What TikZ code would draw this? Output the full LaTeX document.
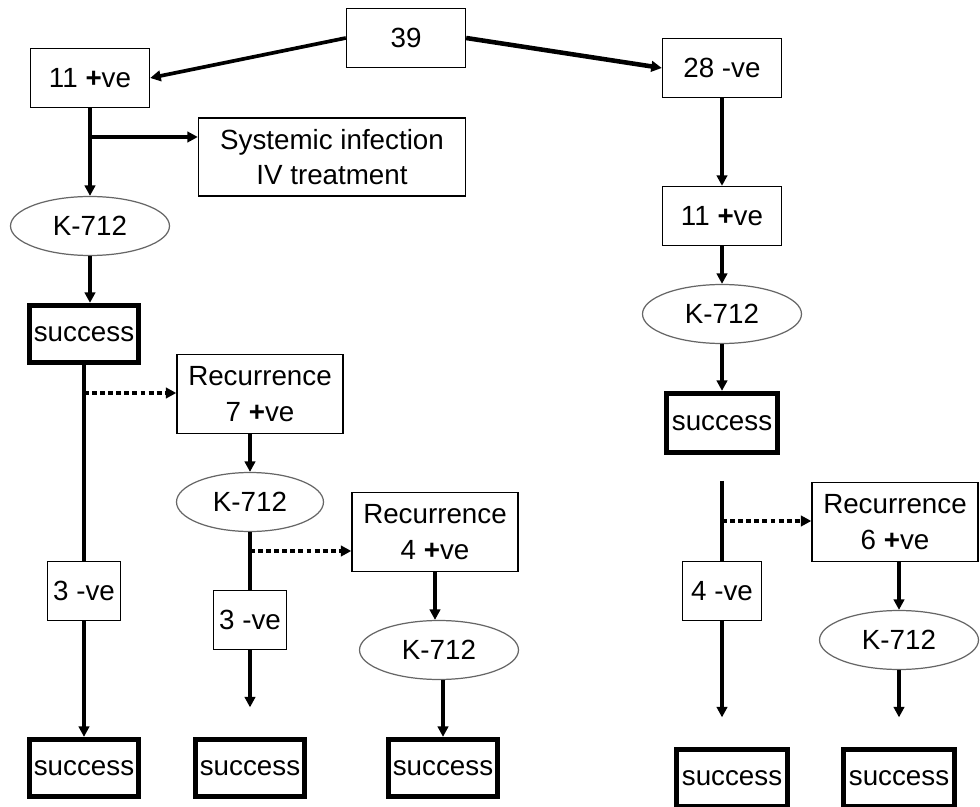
\documentclass[tikz,border=0pt]{standalone}
\usepackage{fontspec}
\setmainfont{Liberation Sans}
\usetikzlibrary{arrows.meta,shapes.geometric}

\begin{document}
\begin{tikzpicture}[
      x=0.02cm, y=-0.02cm,
      box/.style={draw, line width=0.8pt, inner sep=0pt, align=center,
        minimum width=2.38cm, minimum height=1.18cm},
      recbox/.style={box, minimum width=3.32cm, minimum height=1.58cm},
      negbox/.style={box, minimum width=1.46cm},
      okbox/.style={draw, line width=3pt, inner sep=0pt,
        minimum width=2.18cm, minimum height=1.14cm},
      drug/.style={ellipse, draw=black!60, line width=0.7pt, inner sep=0pt,
        minimum width=3.18cm, minimum height=1.18cm},
      arrow/.style={-{Triangle[length=6pt,width=6pt]}, line width=2.1pt},
      dotarrow/.style={arrow, line width=2.4pt, dash pattern=on 2.8pt off 1.8pt},
      every node/.style={font=\fontsize{15.8}{20.3}\selectfont}
    ]
    \useasboundingbox (0,0) rectangle (980,807);

    % Top
    \node[box] (all) at (406,38) {39};

    % Positive branch
    \node[box] (pos1) at (90,78) {11 \textbf{+}ve};
    \node[box, minimum width=5.34cm, minimum height=1.56cm] (sys) at (332,157)
      {Systemic infection\\IV treatment};
    \node[drug] (k1) at (90,226) {K-712};
    \node[okbox] (ok1) at (84,334) {success};
    \node[recbox] (rec7) at (260,394) {Recurrence\\7 \textbf{+}ve};
    \node[drug, minimum width=2.94cm] (k2) at (250,502) {K-712};
    \node[recbox] (rec4) at (435,532) {Recurrence\\4 \textbf{+}ve};
    \node[negbox] (neg3a) at (84,591) {3 -ve};
    \node[negbox] (neg3b) at (250,620) {3 -ve};
    \node[drug] (k3) at (439,650) {K-712};
    \node[okbox] (ok2) at (84,768) {success};
    \node[okbox] (ok3) at (250,768) {success};
    \node[okbox] (ok4) at (443,768) {success};

    \coordinate (br1) at (90,137);
    \coordinate (br2) at (84,393);
    \coordinate (br3) at (250,551);

    \draw[arrow] (all.west) -- (pos1.east);
    \draw[arrow] (pos1) -- (k1);
    \draw[arrow] (br1) -- (br1 -| sys.west);
    \draw[arrow] (k1.south) -- (k1.south |- ok1.north);
    \draw[line width=2.1pt] (ok1) -- (neg3a);
    \draw[dotarrow] (br2) -- (br2 -| rec7.west);
    \draw[arrow] (neg3a) -- (ok2);
    \draw[arrow] (k2.north |- rec7.south) -- (k2.north);
    \draw[line width=2.1pt] (k2) -- (neg3b);
    \draw[dotarrow] (br3) -- (br3 -| rec4.west);
    \draw[arrow, shorten >=8\pgflinewidth] (neg3b) -- (ok3);
    \draw[arrow] (rec4.south) -- (rec4.south |- k3.north);
    \draw[arrow] (k3.south -| ok4.north) -- (ok4.north);

    % Negative branch
    \node[box] (neg28) at (722,68) {28 -ve};
    \node[box] (pos2) at (722,216) {11 \textbf{+}ve};
    \node[drug] (k4) at (722,314) {K-712};
    \node[okbox, minimum width=2.22cm, minimum height=1.18cm] (ok5) at (722,423) {success};
    \node[recbox] (rec6) at (895,522) {Recurrence\\6 \textbf{+}ve};
    \node[negbox, minimum width=1.58cm] (neg4) at (722,591) {4 -ve};
    \node[drug] (k5) at (899,640) {K-712};
    \node[okbox, minimum width=2.22cm] (ok6) at (732,778) {success};
    \node[okbox, minimum width=2.22cm] (ok7) at (899,778) {success};

    \coordinate (br4) at (722,521);

    \draw[arrow, line width=2.6pt] (all.east) -- (neg28.west);
    \draw[arrow] (neg28) -- (pos2);
    \draw[arrow] (pos2) -- (k4);
    \draw[arrow] (k4) -- (ok5);
    \draw[line width=2.1pt, shorten <=7\pgflinewidth] (ok5) -- (neg4);
    \draw[dotarrow] (br4) -- (br4 -| rec6.west);
    \draw[arrow, shorten >=8\pgflinewidth] (neg4.south) -- (neg4.south |- ok6.north);
    \draw[arrow] (k5.north |- rec6.south) -- (k5.north);
    \draw[arrow, line width=2.8pt, shorten >=6\pgflinewidth] (k5) -- (ok7);
  \end{tikzpicture}
\end{document}
